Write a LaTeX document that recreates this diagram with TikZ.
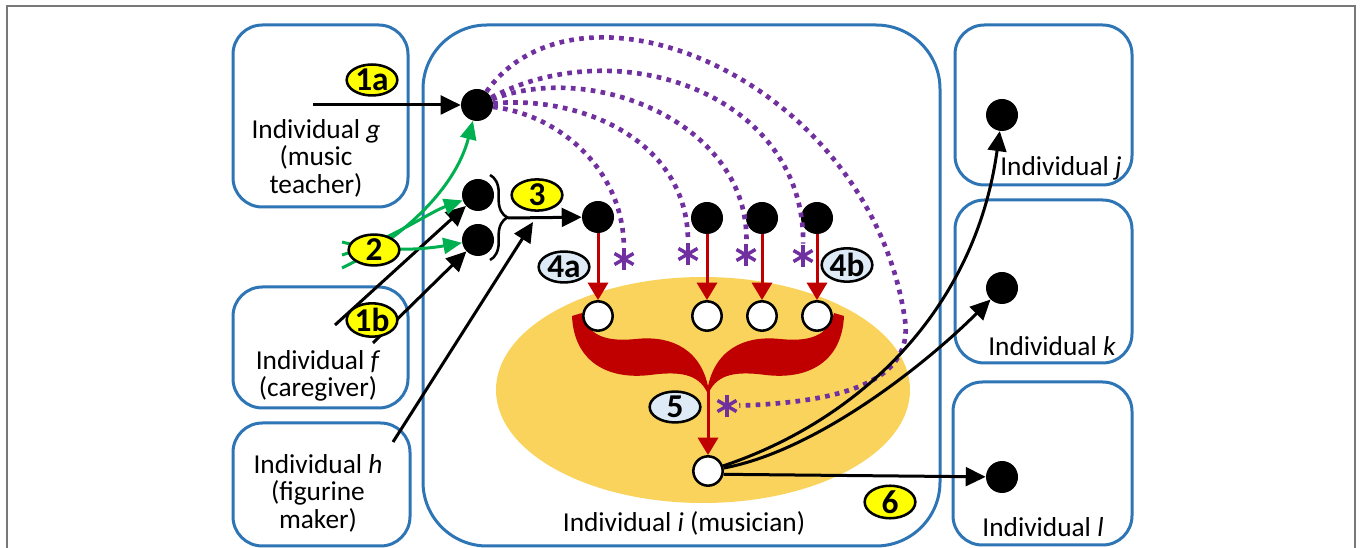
\documentclass[tikz,border=0pt]{standalone}
\usepackage{fontspec}
\setmainfont{Carlito}
\usetikzlibrary{arrows.meta,decorations.pathreplacing,shapes.geometric}
\definecolor{boxblue}{RGB}{46,117,182}
\definecolor{grn}{RGB}{0,176,80}
\definecolor{darkred}{RGB}{192,0,0}
\definecolor{purp}{RGB}{112,48,160}
\definecolor{ellyellow}{RGB}{249,211,92}
\definecolor{labyellow}{RGB}{255,255,0}
\definecolor{lablue}{RGB}{222,235,247}
\definecolor{framegray}{RGB}{120,120,120}
\begin{document}
\begin{tikzpicture}[x=0.75pt,y=-0.75pt,
  box/.style={draw=boxblue, line width=2.25pt, rounded corners=22pt},
  bigbox/.style={draw=boxblue, line width=2.25pt, rounded corners=48pt},
  bdot/.style={circle, fill=black, minimum size=24pt, inner sep=0pt},
  wdot/.style={circle, draw=black, fill=white, line width=1.9pt, minimum size=22pt, inner sep=0pt},
  lab/.style={ellipse, draw=black, line width=1.9pt, fill=labyellow, minimum width=38pt, minimum height=22pt, inner sep=0pt, font=\fontsize{25}{25}\selectfont\bfseries},
  labb/.style={lab, fill=lablue},
  txt/.style={align=center, inner sep=0pt, font=\fontsize{20.5}{20.6}\selectfont},
  blk/.style={draw=black, line width=2.25pt, -{Triangle[length=15pt,width=14pt]}},
  grnarr/.style={draw=grn, line width=2.25pt, -{Triangle[length=14pt,width=12pt]}},
  redarr/.style={draw=darkred, line width=2.25pt, -{Triangle[length=13pt,width=15pt]}},
  pdot/.style={draw=purp, line width=3.5pt, dash pattern=on 3.5pt off 4pt},
  aster/.style={circle, minimum size=18pt, inner sep=0pt,
    path picture={
      \draw[purp, line width=2.6pt] (path picture bounding box.center) ++(90:11) -- ++(270:22);
      \draw[purp, line width=2.6pt] (path picture bounding box.center) ++(30:11) -- ++(210:22);
      \draw[purp, line width=2.6pt] (path picture bounding box.center) ++(150:11) -- ++(330:22);
    }}
]
\useasboundingbox (0,0) rectangle (1360,548);
% outer frame
\draw[framegray, line width=1.5pt] (7,548) -- (7,6) -- (1355,6) -- (1355,548);

% yellow ellipse
\fill[ellyellow] (703,390) ellipse [x radius=207, y radius=113];

% boxes
\draw[box] (233,25) rectangle (408,207);
\draw[box] (233,287) rectangle (408,408);
\draw[box] (233,423) rectangle (410,546);
\draw[bigbox] (423,25) rectangle (940,546);
\draw[box] (955,25) rectangle (1132,185);
\draw[box] (955,200) rectangle (1132,363);
\draw[box] (953,382) rectangle (1132,545);

% texts
\node[txt] (tg) at (316,158) {Individual \textit{g}\\(music\\teacher)};
\node[txt] (tf) at (318,376) {Individual \textit{f}\\(caregiver)};
\node[txt] (th) at (318,493) {Individual \textit{h}\\(figurine\\maker)};
\node[txt] (ti) at (684,523) {Individual \textit{i} (musician)};
\node[txt] (tj) at (1061,168) {Individual \textit{j}};
\node[txt] (tk) at (1052,346) {Individual \textit{k}};
\node[txt] (tl) at (1043,527) {Individual \textit{l}};

% red wings
\fill[darkred] (572,316) -- (582,313) .. controls (588,336) and (606,342) .. (636,339)
  .. controls (672,335) and (703,350) .. (709,392) -- (707,392)
  .. controls (698,374) and (680,371) .. (650,375)
  .. controls (608,380) and (574,362) .. (572,316) -- cycle;
\fill[darkred] (844,316) -- (834,313) .. controls (828,336) and (810,342) .. (780,339)
  .. controls (744,335) and (713,350) .. (707,392) -- (709,392)
  .. controls (718,374) and (736,371) .. (766,375)
  .. controls (808,380) and (842,362) .. (844,316) -- cycle;

% nodes
\node[bdot] (Ng) at (477,105) {};
\node[bdot] (N1) at (478,195) {};
\node[bdot] (N2) at (478,240) {};
\node[bdot] (N3) at (598,217) {};
\node[bdot] (N4) at (707,218) {};
\node[bdot] (N5) at (762,218) {};
\node[bdot] (N6) at (817,218) {};
\node[wdot] (W1) at (598,316) {};
\node[wdot] (W4) at (707,316) {};
\node[wdot] (W5) at (762,316) {};
\node[wdot] (W6) at (817,316) {};
\node[wdot] (O) at (708,471) {};
\node[bdot] (Nj) at (1002,115) {};
\node[bdot] (Nk) at (1002,288) {};
\node[bdot] (Nl) at (1002,477) {};

% asterisks
\node[aster] (A1) at (624,259) {};
\node[aster] (A2) at (688,254) {};
\node[aster] (A3) at (746,255) {};
\node[aster] (A4) at (803,256) {};
\node[aster] (A5) at (727,406) {};

% coordinates
\coordinate (s1a) at (313,105);
\coordinate (sf1) at (335,325);
\coordinate (sf2) at (373,343);
\coordinate (sh) at (393,442);
\coordinate (hEnd) at (533,222);
\coordinate (gA) at (342,268);
\coordinate (gB) at (342,255);
\coordinate (gC) at (342,242);
\coordinate (Btop) at (490,175);
\coordinate (Bbot) at (490,260);
\coordinate (Btip) at (508,218);
\coordinate (J) at (708,390);

% purple dotted
\draw[pdot] (Ng) .. controls (560,115) and (623,170) .. (A1);
\draw[pdot] (Ng) .. controls (580,95) and (688,140) .. (A2);
\draw[pdot] (Ng) .. controls (595,60) and (750,125) .. (A3);
\draw[pdot] (Ng) .. controls (620,30) and (805,95) .. (A4);
\draw[pdot] (Ng) .. controls (580,-40) and (870,80) .. (905,320)
  .. controls (913,378) and (850,402) .. (A5);

% black arrows
\draw[blk] (s1a) -- (Ng);
\draw[blk] (sf1) -- (N1);
\draw[blk] (sf2) -- (N2);
\draw[blk] (sh) -- (hEnd);
\draw[black, line width=1.9pt, decorate, decoration={brace, amplitude=13pt}] (Btop) -- (Bbot);
\draw[blk] (Btip) -- (N3);

% green arrows
\draw[grnarr] (gA) .. controls (400,240) and (455,190) .. (Ng);
\draw[grnarr] (gB) .. controls (390,240) and (430,212) .. (N1);
\draw[grnarr] (gC) .. controls (380,252) and (420,250) .. (N2);

% red arrows
\draw[redarr] (N3) -- (W1);
\draw[redarr] (N4) -- (W4);
\draw[redarr] (N5) -- (W5);
\draw[redarr] (N6) -- (W6);
\draw[redarr] (J) -- (O);

% output arrows
\draw[blk] (O) .. controls (860,420) and (975,310) .. (Nj);
\draw[blk] (O) .. controls (820,450) and (930,360) .. (Nk);
\draw[blk] (O.-12) -- (Nl);

% labels
\node[lab] (L1a) at (372,80) {1a};
\node[lab] (L2) at (374,250) {2};
\node[lab] (L3) at (537,195) {3};
\node[lab] (L1b) at (372,320) {1b};
\node[labb] (L4a) at (564,267) {4a};
\node[labb] (L4b) at (847,265) {4b};
\node[labb] (L5) at (675,407) {5};
\node[lab] (L6) at (890,502) {6};
\end{tikzpicture}
\end{document}
